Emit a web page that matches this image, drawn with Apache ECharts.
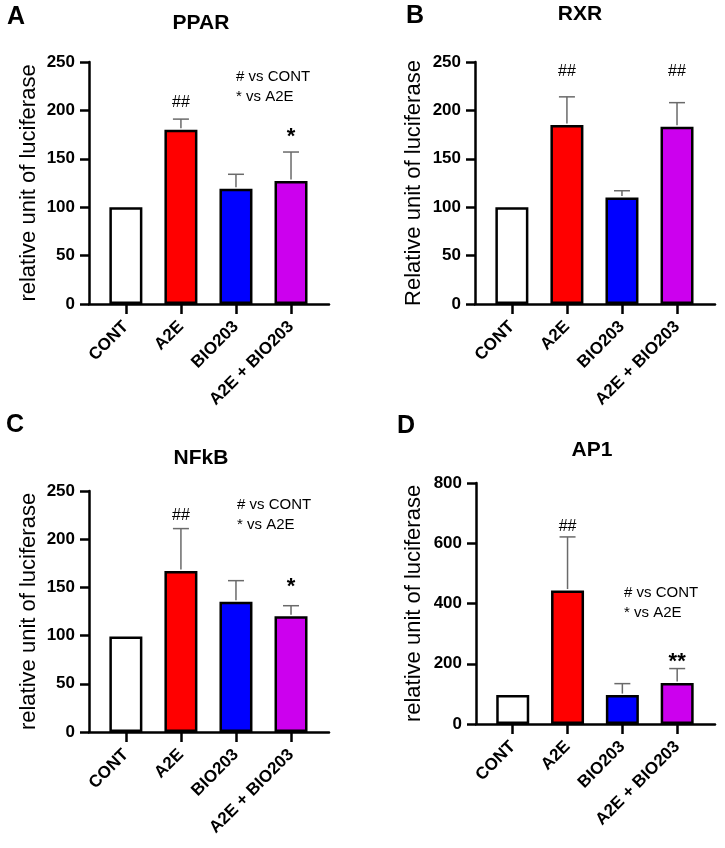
<!DOCTYPE html>
<html><head><meta charset="utf-8">
<script src="https://cdn.jsdelivr.net/npm/echarts@6/dist/echarts.min.js"></script>
<style>html,body{margin:0;padding:0;background:#fff}#chart{width:725px;height:848px}</style>
</head><body><div id="chart"></div>
<script>
// ---- data ----
const categories = ['CONT', 'A2E', 'BIO203', 'A2E + BIO203'];
const barColors = ['#ffffff', '#ff0000', '#0000ff', '#cc00ee'];

const pparMean = [100, 180, 119, 127];
const pparSD   = [0, 11, 15, 30];
const pparSig  = ['', '##', '', '*'];
const pparSigLevel = [null, 208, null, 173];

const rxrMean = [100, 185, 110, 183];
const rxrSD   = [0, 29, 7, 25];
const rxrSig  = ['', '##', '', '##'];
const rxrSigLevel = [null, 240, null, 240];

const nfkbMean = [99, 167, 135, 120];
const nfkbSD   = [0, 44, 22, 11];
const nfkbSig  = ['', '##', '', '*'];
const nfkbSigLevel = [null, 224, null, 150];

const ap1Mean = [96, 443, 96, 136];
const ap1SD   = [0, 178, 38, 48];
const ap1Sig  = ['', '##', '', '**'];
const ap1SigLevel = [null, 655, null, 207];

const yTicksSmall = [0, 50, 100, 150, 200, 250];
const yTicksAP1 = [0, 200, 400, 600, 800];

// ---- layout ----
const FONT = "'Liberation Sans', Arial, Helvetica, sans-serif";
const panels = [
  {title: 'PPAR', letter: 'A', mean: pparMean, sd: pparSD, sig: pparSig, sigLevel: pparSigLevel, ticks: yTicksSmall,
   yName: 'relative unit of luciferase', grid: {left: 89, top: 62, width: 240, height: 242}, nameGap: 49,
   titlePos: [201, 23], letterPos: [16, 17], legend: [236, 77]},
  {title: 'RXR', letter: 'B', mean: rxrMean, sd: rxrSD, sig: rxrSig, sigLevel: rxrSigLevel, ticks: yTicksSmall,
   yName: 'Relative unit of luciferase', grid: {left: 475, top: 62, width: 240, height: 242}, nameGap: 50,
   titlePos: [580, 14], letterPos: [415, 16], legend: null},
  {title: 'NFkB', letter: 'C', mean: nfkbMean, sd: nfkbSD, sig: nfkbSig, sigLevel: nfkbSigLevel, ticks: yTicksSmall,
   yName: 'relative unit of luciferase', grid: {left: 89, top: 491, width: 240, height: 241}, nameGap: 49,
   titlePos: [201, 458], letterPos: [15, 425], legend: [237, 505]},
  {title: 'AP1', letter: 'D', mean: ap1Mean, sd: ap1SD, sig: ap1Sig, sigLevel: ap1SigLevel, ticks: yTicksAP1,
   yName: 'relative unit of luciferase', grid: {left: 476, top: 483, width: 239, height: 241}, nameGap: 51,
   titlePos: [592, 450], letterPos: [406, 426], legend: [624, 593]}
];

const grids = [], xAxes = [], yAxes = [], series = [], graphics = [];

panels.forEach((p, i) => {
  grids.push(Object.assign({outerBoundsMode: 'none', containLabel: false}, p.grid));
  const tickIdx = categories.map((c, k) => k);
  xAxes.push({
    type: 'value', gridIndex: i, min: -0.67, max: 3.69,
    axisLine: {show: true, onZero: false, lineStyle: {color: '#000', width: 2.5}},
    axisTick: {show: true, customValues: tickIdx, length: 10, lineStyle: {color: '#000', width: 2.5}},
    axisLabel: {show: true, customValues: tickIdx, rotate: 45, margin: 20, color: '#000',
      fontSize: 17, fontWeight: 'bold', fontFamily: FONT,
      formatter: v => categories[Math.round(v)] || ''},
    splitLine: {show: false}
  });
  const tmax = p.ticks[p.ticks.length - 1];
  yAxes.push({
    type: 'value', gridIndex: i, min: 0, max: tmax, interval: p.ticks[1] - p.ticks[0],
    name: p.yName, nameLocation: 'middle', nameRotate: 90, nameGap: p.nameGap,
    nameTextStyle: {fontSize: 22, color: '#000', fontFamily: FONT},
    axisLine: {show: true, onZero: false, lineStyle: {color: '#000', width: 2.5}},
    axisTick: {show: true, length: 9, lineStyle: {color: '#000', width: 2.5}},
    axisLabel: {margin: 14, color: '#000', fontSize: 17, fontWeight: 'bold', fontFamily: FONT},
    splitLine: {show: false}
  });
  series.push({
    type: 'bar', xAxisIndex: i, yAxisIndex: i, barWidth: 33, z: 2,
    data: p.mean.map((m, k) => ({value: [k, m], itemStyle: {color: barColors[k], borderColor: '#000', borderWidth: 2.5}}))
  });
  series.push({
    type: 'custom', xAxisIndex: i, yAxisIndex: i, z: 3,
    data: p.mean.map((m, k) => [k, m, m + p.sd[k]]),
    renderItem: (params, api) => {
      const x = api.value(0), m = api.value(1), t = api.value(2);
      if (!(t > m)) return null;
      const a = api.coord([x, m]), b = api.coord([x, t]);
      const st = {stroke: '#6a6a6a', lineWidth: 1.5};
      return {type: 'group', children: [
        {type: 'line', shape: {x1: a[0], y1: a[1] - 1.5, x2: b[0], y2: b[1]}, style: st},
        {type: 'line', shape: {x1: b[0] - 8, y1: b[1], x2: b[0] + 8, y2: b[1]}, style: st}
      ]};
    }
  });
  series.push({
    type: 'custom', xAxisIndex: i, yAxisIndex: i, z: 4,
    data: p.sigLevel.map((lv, k) => [k, lv == null ? 0 : lv]),
    renderItem: (params, api) => {
      const k = params.dataIndex;
      const txt = p.sig[k];
      if (!txt) return null;
      const c = api.coord([api.value(0), api.value(1)]);
      const star = txt.indexOf('*') >= 0;
      return {type: 'text', x: c[0], y: c[1], style: {
        text: txt, align: 'center', verticalAlign: 'middle', fill: '#000',
        font: (star ? 'bold 22px ' : '16px ') + FONT}};
    }
  });
  graphics.push({type: 'text', x: p.titlePos[0], y: p.titlePos[1], style: {
    text: p.title, align: 'center', verticalAlign: 'middle', fill: '#000', font: 'bold 21px ' + FONT}});
  graphics.push({type: 'text', x: p.letterPos[0], y: p.letterPos[1], style: {
    text: p.letter, align: 'center', verticalAlign: 'middle', fill: '#000', font: 'bold 25px ' + FONT}});
  if (p.legend) {
    graphics.push({type: 'text', x: p.legend[0], y: p.legend[1], style: {
      text: '# vs CONT', align: 'left', verticalAlign: 'middle', fill: '#000', font: '15px ' + FONT}});
    graphics.push({type: 'text', x: p.legend[0], y: p.legend[1] + 20, style: {
      text: '* vs A2E', align: 'left', verticalAlign: 'middle', fill: '#000', font: '15px ' + FONT}});
  }
});

const chart = echarts.init(document.getElementById('chart'), null, {renderer: 'canvas'});
chart.setOption({
  animation: false,
  backgroundColor: '#fff',
  grid: grids, xAxis: xAxes, yAxis: yAxes, series: series, graphic: graphics
});
</script>
</body></html>
